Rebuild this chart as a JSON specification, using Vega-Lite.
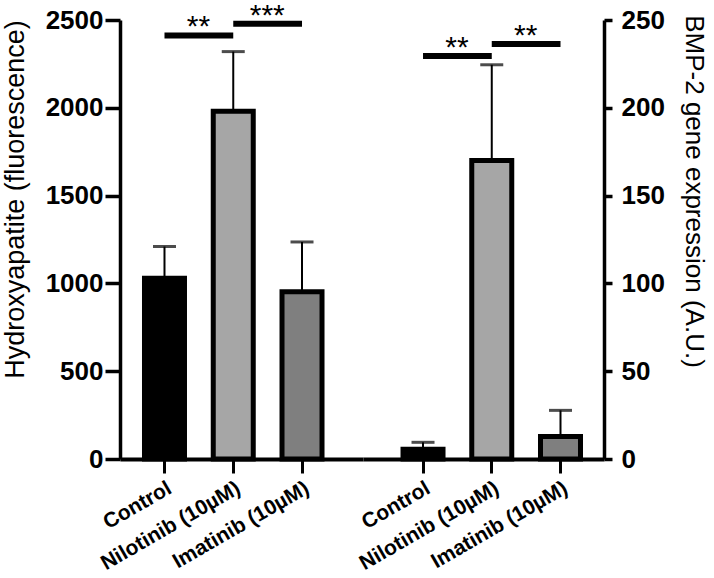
{
  "$schema": "https://vega.github.io/schema/vega-lite/v6.json",
  "background": "white",
  "padding": {"left": 1, "top": 0, "right": 0, "bottom": 0},
  "spacing": 0,
  "bounds": "flush",
  "config": {
    "view": {"stroke": null},
    "axis": {"grid": false, "domainColor": "black", "tickColor": "black", "labelColor": "black", "titleColor": "black", "labelFont": "Liberation Sans", "titleFont": "Liberation Sans"}
  },
  "datasets": {
    "hydroxy": [
      {"treatment": "Control", "mean": 1030, "upper": 1210},
      {"treatment": "Nilotinib (10µM)", "mean": 1980, "upper": 2320},
      {"treatment": "Imatinib (10µM)", "mean": 952, "upper": 1236}
    ],
    "bmp": [
      {"treatment": "Control", "mean": 5.5, "upper": 9.5},
      {"treatment": "Nilotinib (10µM)", "mean": 170, "upper": 224.5},
      {"treatment": "Imatinib (10µM)", "mean": 12.8, "upper": 27.7}
    ],
    "sigH": [
      {"from": "Control", "to": "Nilotinib (10µM)", "level": 2412, "stars": "**"},
      {"from": "Nilotinib (10µM)", "to": "Imatinib (10µM)", "level": 2478, "stars": "***"}
    ],
    "sigB": [
      {"from": "Control", "to": "Nilotinib (10µM)", "level": 229.5, "stars": "**"},
      {"from": "Nilotinib (10µM)", "to": "Imatinib (10µM)", "level": 236.3, "stars": "**"}
    ]
  },
  "hconcat": [
    {
      "width": 243,
      "height": 439,
      "layer": [
        {
          "data": {"name": "hydroxy"},
          "mark": {"type": "rule", "strokeWidth": 2, "color": "black"},
          "encoding": {
            "x": {"field": "treatment", "type": "nominal", "title": null,
              "scale": {"domain": ["Control", "Nilotinib (10µM)", "Imatinib (10µM)"], "paddingInner": 0.418, "paddingOuter": 0.476, "align": 0.374, "round": false},
              "axis": {"labelAngle": -30, "labelFontSize": 21, "labelFontWeight": "bold", "tickSize": 14, "tickWidth": 3, "domainWidth": 4, "labelPadding": 4, "title": null}},
            "y": {"field": "mean", "type": "quantitative", "title": "Hydroxyapatite (fluorescence)",
              "scale": {"domain": [0, 2500], "nice": false, "zero": true},
              "axis": {"values": [0, 500, 1000, 1500, 2000, 2500], "format": "d", "titleFontSize": 27, "titleFontWeight": "normal", "titleX": -105, "titleY": 179, "titleAngle": 270, "titleAlign": "center", "titleBaseline": "middle", "labelFontSize": 26, "labelFontWeight": "bold", "tickSize": 15, "tickWidth": 3.5, "domainWidth": 3.5, "labelPadding": 2}},
            "y2": {"field": "upper"}
          }
        },
        {
          "data": {"name": "hydroxy"},
          "mark": {"type": "tick", "size": 23, "thickness": 3, "color": "black"},
          "encoding": {
            "x": {"field": "treatment", "type": "nominal", "title": null},
            "y": {"field": "upper", "type": "quantitative", "title": "Hydroxyapatite (fluorescence)"}
          }
        },
        {
          "data": {"name": "hydroxy"},
          "mark": {"type": "bar", "width": 40, "stroke": "black", "strokeWidth": 5},
          "encoding": {
            "x": {"field": "treatment", "type": "nominal", "title": null},
            "y": {"field": "mean", "type": "quantitative", "title": "Hydroxyapatite (fluorescence)"},
            "color": {"field": "treatment", "type": "nominal", "legend": null,
              "scale": {"domain": ["Control", "Nilotinib (10µM)", "Imatinib (10µM)"], "range": ["#000000", "#a6a6a6", "#7f7f7f"]}}
          }
        },
        {
          "data": {"name": "sigH"},
          "mark": {"type": "rule", "strokeWidth": 6, "color": "black"},
          "encoding": {
            "x": {"field": "from", "type": "nominal", "title": null},
            "x2": {"field": "to"},
            "y": {"field": "level", "type": "quantitative", "title": "Hydroxyapatite (fluorescence)"}
          }
        },
        {
          "data": {"name": "sigH"},
          "mark": {"type": "text", "fontSize": 30, "font": "Liberation Sans", "baseline": "alphabetic", "dy": 1, "dx": 14, "color": "black"},
          "encoding": {
            "x": {"field": "from", "type": "nominal", "title": null, "bandPosition": 1},
            "y": {"field": "level", "type": "quantitative", "title": "Hydroxyapatite (fluorescence)"},
            "text": {"field": "stars"}
          }
        }
      ]
    },
    {
      "width": 241,
      "height": 439,
      "layer": [
        {
          "data": {"name": "bmp"},
          "mark": {"type": "rule", "strokeWidth": 2, "color": "black"},
          "encoding": {
            "x": {"field": "treatment", "type": "nominal", "title": null,
              "scale": {"domain": ["Control", "Nilotinib (10µM)", "Imatinib (10µM)"], "paddingInner": 0.418, "paddingOuter": 0.462, "align": 0.63, "round": false},
              "axis": {"labelAngle": -30, "labelFontSize": 21, "labelFontWeight": "bold", "tickSize": 14, "tickWidth": 3, "domainWidth": 4, "labelPadding": 4, "title": null}},
            "y": {"field": "mean", "type": "quantitative", "title": "BMP-2 gene expression (A.U.)",
              "scale": {"domain": [0, 250], "nice": false, "zero": true},
              "axis": {"orient": "right", "values": [0, 50, 100, 150, 200, 250], "format": "d", "titleFontSize": 26, "titleFontWeight": "normal", "titleX": 89, "titleY": 171, "titleAngle": 90, "titleAlign": "center", "titleBaseline": "middle", "labelFontSize": 26, "labelFontWeight": "bold", "tickSize": 8, "tickWidth": 3.5, "domainWidth": 3.5, "labelPadding": 9}},
            "y2": {"field": "upper"}
          }
        },
        {
          "data": {"name": "bmp"},
          "mark": {"type": "tick", "size": 23, "thickness": 3, "color": "black"},
          "encoding": {
            "x": {"field": "treatment", "type": "nominal", "title": null},
            "y": {"field": "upper", "type": "quantitative", "title": "BMP-2 gene expression (A.U.)"}
          }
        },
        {
          "data": {"name": "bmp"},
          "mark": {"type": "bar", "width": 40, "stroke": "black", "strokeWidth": 5},
          "encoding": {
            "x": {"field": "treatment", "type": "nominal", "title": null},
            "y": {"field": "mean", "type": "quantitative", "title": "BMP-2 gene expression (A.U.)"},
            "color": {"field": "treatment", "type": "nominal", "legend": null,
              "scale": {"domain": ["Control", "Nilotinib (10µM)", "Imatinib (10µM)"], "range": ["#000000", "#a6a6a6", "#7f7f7f"]}}
          }
        },
        {
          "data": {"name": "sigB"},
          "mark": {"type": "rule", "strokeWidth": 6, "color": "black"},
          "encoding": {
            "x": {"field": "from", "type": "nominal", "title": null},
            "x2": {"field": "to"},
            "y": {"field": "level", "type": "quantitative", "title": "BMP-2 gene expression (A.U.)"}
          }
        },
        {
          "data": {"name": "sigB"},
          "mark": {"type": "text", "fontSize": 30, "font": "Liberation Sans", "baseline": "alphabetic", "dy": 1, "dx": 14, "color": "black"},
          "encoding": {
            "x": {"field": "from", "type": "nominal", "title": null, "bandPosition": 1},
            "y": {"field": "level", "type": "quantitative", "title": "BMP-2 gene expression (A.U.)"},
            "text": {"field": "stars"}
          }
        }
      ]
    }
  ]
}
